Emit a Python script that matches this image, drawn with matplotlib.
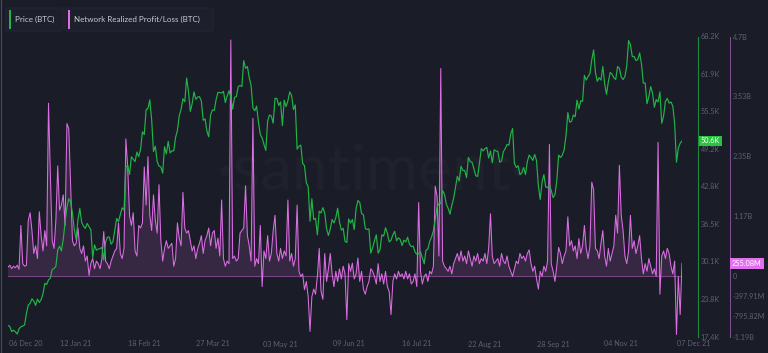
import numpy as np
import pandas as pd
import matplotlib
matplotlib.use('Agg')
import matplotlib.pyplot as plt
import matplotlib.dates as mdates
import matplotlib.transforms as mtransforms
from matplotlib.patches import FancyBboxPatch, Rectangle
from matplotlib.lines import Line2D

W, H = 768, 353
bg = '#1a1c28'
green = '#22b446'
pink = '#dc6ee3'
grey = '#5d6171'
font = ['Lato', 'DejaVu Sans']

# daily values, 06 Dec 2020 -> 07 Dec 2021
dates = pd.date_range('2020-12-06', periods=367, freq='D')

price_k = [
    19.36, 19.17, 18.32, 18.55, 18.26, 17.90, 18.8, 19.14, 19.25, 19.44, 21.38, 22.8, 23.1,
    23.87, 23.48, 22.75, 23.82, 23.24, 23.73, 24.71, 26.49, 26.3, 27.08, 27.36, 28.84, 29.0,
    # Jan
    29.37, 32.13, 32.78, 31.97, 33.99, 36.82, 39.37, 40.8, 40.25, 38.36, 35.57, 33.92, 37.32,
    39.19, 36.82, 36.18, 35.79, 36.63, 36.07, 35.55, 30.83, 33.0, 32.1, 32.29, 32.37, 32.57,
    30.43, 33.47, 34.32, 34.32, 33.11,
    # Feb
    33.54, 35.51, 37.47, 36.93, 38.14, 39.27, 38.9, 46.2, 46.48, 44.92, 47.91, 47.5, 47.1,
    48.72, 47.94, 49.2, 52.15, 51.68, 55.89, 56.1, 57.54, 54.2, 48.82, 49.7, 47.09, 46.34,
    46.19, 45.14,
    # Mar
    49.63, 48.38, 50.54, 48.56, 48.93, 48.91, 51.21, 52.38, 54.88, 55.96, 57.75, 57.23, 61.26,
    59.0, 55.6, 56.9, 58.9, 57.65, 58.03, 58.1, 57.35, 54.1, 54.34, 52.3, 51.3, 55.0, 55.84,
    55.78, 57.6, 58.8, 58.8,
    # Apr
    58.7, 59.0, 57.1, 58.2, 59.1, 58.0, 56.0, 58.0, 58.1, 59.8, 60.0, 59.8, 64.2, 62.9, 63.2,
    61.3, 60.0, 56.2, 55.7, 56.5, 53.8, 51.7, 51.1, 50.0, 49.0, 54.0, 55.0, 54.8, 53.6, 57.8,
    # May
    57.8, 56.6, 57.2, 53.2, 57.5, 56.4, 57.4, 58.9, 58.3, 55.9, 56.7, 49.2, 49.7, 49.9, 46.8,
    46.4, 43.5, 42.9, 37.0, 40.8, 37.3, 37.5, 34.7, 38.7, 38.4, 39.3, 38.4, 35.7, 34.6, 35.7,
    37.3,
    # Jun
    36.7, 37.6, 39.2, 36.9, 35.5, 35.8, 33.6, 33.4, 37.4, 36.7, 37.3, 35.6, 39.1, 40.5, 40.2,
    38.3, 38.1, 35.8, 35.6, 35.7, 31.6, 32.5, 33.7, 34.7, 31.6, 32.2, 34.7, 34.5, 35.9, 35.0,
    # Jul
    33.5, 33.8, 34.7, 35.3, 33.7, 34.2, 33.9, 32.9, 33.8, 33.5, 34.3, 33.1, 32.7, 32.8, 31.8,
    31.4, 31.5, 31.8, 30.8, 29.8, 32.1, 32.3, 33.6, 34.3, 35.4, 37.3, 39.4, 40.0, 40.0, 42.2,
    41.6,
    # Aug
    39.9, 39.2, 38.2, 39.7, 40.9, 42.8, 44.6, 43.8, 46.3, 45.6, 45.6, 44.4, 47.8, 47.1, 47.0,
    45.9, 44.7, 44.6, 46.8, 49.3, 48.9, 49.3, 49.5, 47.7, 48.9, 46.9, 49.1, 48.9, 48.8, 47.0,
    47.2,
    # Sep
    48.8, 49.3, 50.0, 49.9, 51.8, 52.7, 46.8, 46.1, 46.4, 44.9, 45.2, 46.1, 44.9, 47.1, 48.2,
    47.8, 47.3, 48.3, 47.3, 43.0, 40.7, 43.6, 44.9, 42.8, 42.7, 43.2, 42.2, 41.0, 41.5, 43.8,
    # Oct
    48.2, 47.8, 48.2, 49.1, 51.5, 55.4, 53.8, 53.9, 55.0, 54.7, 57.5, 56.0, 57.4, 57.3, 61.7,
    60.9, 61.5, 62.0, 64.3, 66.0, 62.2, 60.7, 61.3, 60.9, 63.2, 60.3, 58.5, 60.6, 62.2, 61.9,
    61.3,
    # Nov
    61.0, 63.2, 62.9, 61.4, 61.0, 61.5, 63.3, 67.6, 66.9, 64.9, 64.9, 64.2, 64.4, 65.5, 63.6,
    60.4, 60.4, 56.9, 58.1, 59.8, 58.7, 56.3, 57.6, 57.2, 58.9, 53.6, 54.8, 57.3, 57.8, 57.0,
    # Dec
    57.2, 56.5, 53.6, 47.0, 49.4, 50.2, 50.6,
]

pl_b = [
    0.18, 0.22, 0.15, 0.20, 0.17, 0.22, 0.14, 1.00, 0.25, 0.20,
    0.22, 1.10, 1.25, 0.90, 0.45, 0.60, 0.35, 1.27, 0.80,
    0.50, 0.90, 0.60, 3.40, 2.00, 0.70, 0.55, 1.10, 2.17, 1.30,
    1.40, 1.60, 1.00, 3.00, 2.90, 1.80, 0.70, 0.60, 0.65, 0.95,
    0.55, 0.45, 0.60, 0.30, 0.40, 0.02, 0.26, 0.35, 0.15, 0.30,
    0.25, 0.15, 0.35, 0.88, 0.30, 0.25, 0.15, 0.30, 0.40,
    0.50, 0.55, 1.05, 0.45, 0.35, 0.55, 2.70, 2.15, 1.20, 1.00,
    1.25, 0.50, 0.40, 1.00, 0.95, 1.05, 2.15, 1.40, 2.35, 1.20,
    0.90, 1.60, 1.10, 0.85, 1.80, 0.70, 0.30, 0.55, 0.70, 0.55,
    0.60, 0.65, 0.20, 0.35, 1.05, 0.75, 0.60, 1.65, 0.95,
    0.85, 0.90, 0.70, 0.50, 0.60, 0.35, 0.55, 0.65, 0.80, 0.45,
    0.70, 0.80, 0.95, 0.60, 0.85, 0.90, 0.55, 0.75, 0.40, 1.50,
    0.35, 0.20, 0.30, 0.25, 4.64, 0.35, 0.40, 0.30, 0.35,
    0.85, 0.90, 0.95, 1.78, 0.80, 0.60, 0.30, 3.10, 0.20, 0.35,
    0.25, 1.00, -0.20, 0.50, 0.35, 0.80, 0.30, 0.45, 0.90, 1.20,
    0.45, 0.30, 0.55, 0.35, 0.50, 0.40, 1.50, 0.30, 0.45, 0.20,
    0.35, 1.40, 0.10, 0.00, 0.05, -0.26, -0.10, -0.40, -1.08,
    -0.40, -0.25, -0.35, 0.00, 0.55, -0.30, -0.45, 0.45, -0.10, 0.15,
    0.45, 0.05, -0.20, 0.10, -0.10, 0.15, -0.05, 0.20, 0.05, -0.85,
    0.25, 0.10, 0.26, -0.05, 0.05, 0.36, -0.10, 0.10, -0.25, -0.35,
    -0.20, -0.10, 0.15, 0.10, 0.00, -0.15, 0.25, -0.10, 0.05,
    -0.15, 0.10, -0.20, -0.30, -0.75, -0.10, 0.05, -0.05, 0.10, 0.00,
    0.05, -0.05, 0.10, -0.05, 0.05, -0.15, -0.10, 0.05, -0.20, 1.45,
    0.10, -0.15, 0.00, 0.05, -0.10, 0.10, 0.05, 0.20, 1.77,
    1.57, 0.40, 4.08, 0.30, 0.20, 0.15, 0.10, 0.20, 0.05, 0.25,
    0.35, 0.45, 0.30, 0.50, 0.30, 0.40, 0.25, 0.50, 0.35, 0.20,
    0.40, 0.30, 0.45, 0.25, 0.35, 0.30, 0.45, 0.25, 0.55, 1.23,
    0.40, 0.25, 0.30, 0.35, 0.20, 0.45, 0.30, 0.25, 0.40,
    0.20, 0.10, 0.00, 0.15, 0.30, 0.25, 0.45, 0.35, 0.40, 0.30,
    0.45, 0.52, 0.25, 0.10, 0.20, -0.05, -0.25, 0.10, 0.00, 0.20,
    0.10, 0.30, 2.59, 0.25, 0.10, -0.10, 0.20, 0.57, 0.45, 0.25,
    0.40, 0.50, 1.17, 0.60, 0.70, 0.50, 0.60, 0.35, 0.74,
    0.45, 0.60, 1.00, 0.55, 0.35, 0.60, 1.85, 1.70, 0.55, 0.50,
    0.35, 0.65, 0.90, 0.40, 0.20, 0.55, 0.30, 0.45, 0.60, 1.20,
    0.85, 2.18, 1.20, 0.90, 0.40, 0.25, 0.50, 1.20, 0.55, 0.70,
    0.45, 0.60, 0.80, 0.35, 0.05, 0.25, 0.10, 0.35, 0.20,
    0.05, 0.15, 0.00, 2.63, -0.35, 0.40, 0.50, 0.35, 0.55, 0.45,
    0.20, 0.05, 0.30, -1.14, 0.00, -0.75, 0.255,
]

price_ticks = [68.2, 61.9, 55.5, 49.2, 42.8, 36.5, 30.1, 23.8, 17.4]
price_labels = ['68.2K', '61.9K', '55.5K', '49.2K', '42.8K', '36.5K', '30.1K', '23.8K', '17.4K']
pl_ticks = [4.7, 3.53, 2.35, 1.17, 0.0, -0.39791, -0.79582, -1.19]
pl_labels = ['4.7B', '3.53B', '2.35B', '1.17B', '0', '-397.91M', '-795.82M', '-1.19B']
x_tick_dates = ['2020-12-06', '2021-01-12', '2021-02-18', '2021-03-27', '2021-05-03',
                '2021-06-09', '2021-07-16', '2021-08-22', '2021-09-28', '2021-11-04',
                '2021-12-07']
x_tick_labels = ['06 Dec 20', '12 Jan 21', '18 Feb 21', '27 Mar 21', '03 May 21',
                 '09 Jun 21', '16 Jul 21', '22 Aug 21', '28 Sep 21', '04 Nov 21',
                 '07 Dec 21']

price = np.array(price_k)
pl = np.array(pl_b)


def fx(px):
    return px / W


def fy(py):
    return 1 - py / H


fig = plt.figure(figsize=(W / 100, H / 100), dpi=100, facecolor=bg)

ax = fig.add_axes([fx(8), fy(337), fx(682) - fx(8), fy(37) - fy(337)])
ax.set_facecolor('none')
axp = ax.twinx()

# profit/loss
ax.fill_between(dates, pl, 0, where=pl >= 0, interpolate=True, color=pink, alpha=0.15, lw=0)
ax.axhline(0, color=pink, alpha=0.45, lw=0.8)
ax.plot(dates, pl, color=pink, lw=0.75)
ax.set_ylim(-1.19, 4.7)

# price
axp.plot(dates, price, color=green, lw=0.85)
axp.set_ylim(17.4, 68.2)

for a in (ax, axp):
    a.set_xlim(dates[0], dates[-1])
    a.axis('off')

# right side scales
fig.add_artist(Line2D([fx(697.5)] * 2, [fy(37), fy(337)], color='#1f8a3a', lw=0.8))
fig.add_artist(Line2D([fx(729.5)] * 2, [fy(37), fy(337)], color='#7c4d8c', lw=0.8))
trp = mtransforms.blended_transform_factory(fig.transFigure, axp.transData)
trl = mtransforms.blended_transform_factory(fig.transFigure, ax.transData)
for v, s in zip(price_ticks, price_labels):
    fig.text(fx(700.5), v, s, transform=trp, color=grey, fontsize=5.2,
             family=font, va='center', ha='left')
for v, s in zip(pl_ticks, pl_labels):
    fig.text(fx(733), v, s, transform=trl, color=grey, fontsize=5.2,
             family=font, va='center', ha='left')

# last value tags
fig.text(fx(701), price[-1], '%.1fK' % price[-1], transform=trp,
         color='white', fontsize=5.2, family=font, va='center', ha='left',
         bbox=dict(boxstyle='square,pad=0.25', fc='#28c33f', ec='none'))
fig.text(fx(732), pl[-1], '255.08M', transform=trl,
         color='white', fontsize=5.2, family=font, va='center', ha='left',
         bbox=dict(boxstyle='square,pad=0.25', fc='#e36ff0', ec='none'))

# date labels
trx = mtransforms.blended_transform_factory(ax.transData, fig.transFigure)
for i, (d, s) in enumerate(zip(x_tick_dates, x_tick_labels)):
    xv = mdates.date2num(pd.Timestamp(d))
    off = 0
    if i == 0:
        off = 18
    elif i == len(x_tick_dates) - 1:
        off = 12
    fig.text(xv, fy(344), s,
             transform=trx + mtransforms.ScaledTranslation(off / 100, 0, fig.dpi_scale_trans),
             color=grey, fontsize=5.2, family=font, va='center', ha='center')

# legend chips
for (x0, x1, c, label) in [(6, 63, green, 'Price (BTC)'),
                           (65, 213, pink, 'Network Realized Profit/Loss (BTC)')]:
    fig.add_artist(FancyBboxPatch((fx(x0), fy(31)), fx(x1) - fx(x0), fy(8) - fy(31),
                                  boxstyle='round,pad=0,rounding_size=0.004',
                                  transform=fig.transFigure, fc='#1d1f2c', ec='#262935', lw=0.6))
    fig.add_artist(Rectangle((fx(x0 + 2.5), fy(28.5)), fx(2.2), fy(10.5) - fy(28.5),
                             transform=fig.transFigure, fc=c, ec='none'))
    fig.text(fx(x0 + 9), fy(19.5), label, color='#c9cbd3', fontsize=5.8, family=font,
             va='center', ha='left')

# watermark
fig.text(fx(372), fy(172), '\u00b7santiment\u00b7', color='white', alpha=0.022, fontsize=46,
         family=font, va='center', ha='center', zorder=-1)

# left border
fig.add_artist(Line2D([fx(0.5)] * 2, [0, 1], color='#4a4d58', lw=0.8))

fig.savefig('out.png', dpi=100, facecolor=bg)
